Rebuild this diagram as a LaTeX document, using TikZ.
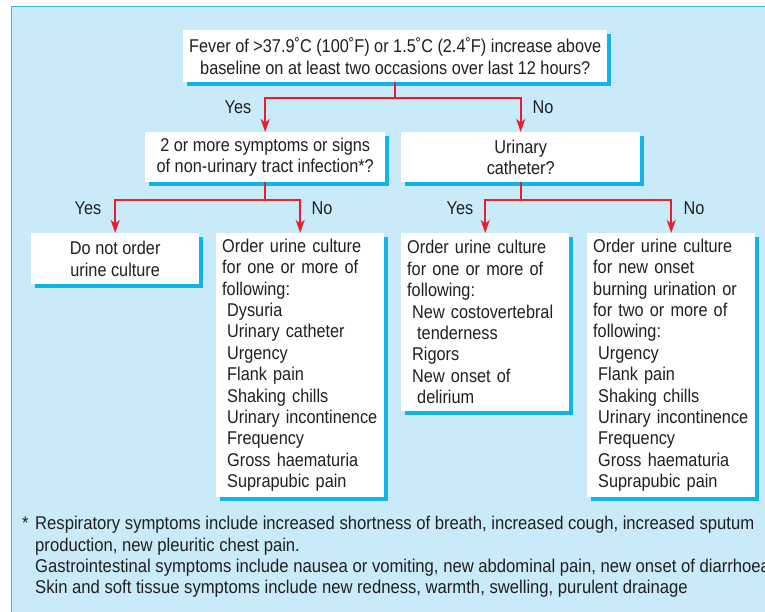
\documentclass[tikz,border=0pt]{standalone}
\usepackage{fontspec}
\setmainfont{Liberation Sans}[FakeStretch=0.88]
\newfontfamily\notefont{Liberation Sans}[FakeStretch=0.9]
\usetikzlibrary{arrows.meta, shadows}

\definecolor{panelblue}{HTML}{C8EAF9}
\definecolor{panelline}{HTML}{3CB6E6}
\definecolor{shadowblue}{HTML}{10B4EA}
\definecolor{flowred}{HTML}{E62129}
\definecolor{inkgray}{HTML}{231F20}

\newcommand{\listind}{\hspace*{5pt}}
\newcommand{\listindd}{\hspace*{10pt}}

\begin{document}
\begin{tikzpicture}[x=1pt,y=-1pt,
  every node/.style={font=\fontsize{18.5}{21.4}\selectfont, text=inkgray},
  qbox/.style={fill=white, inner xsep=6pt, inner ysep=0pt,
    drop shadow={shadow xshift=3.5pt, shadow yshift=-3.5pt, fill=shadowblue, opacity=1}},
  listbox/.style={qbox, text width=156pt, align=left, anchor=north west},
  flow/.style={draw=flowred, line width=1.8pt, -{Stealth[length=13pt,width=9pt,inset=3.5pt]}}]
\useasboundingbox (0,0) rectangle (765,612);
\clip (0,0) rectangle (765,612);
\draw[panelline, fill=panelblue, line width=1pt] (11,7) rectangle (800,650); %background panel

% questions
\node[qbox, anchor=north west, minimum width=420pt, minimum height=52pt, align=center] (fever) at (183,30)
  {Fever of >37.9˚C (100˚F) or 1.5˚C (2.4˚F) increase above\\baseline on at least two occasions over last 12 hours?};
\node[qbox, anchor=north west, minimum width=240pt, minimum height=50pt, align=center] (symp) at (145,132)
  {2 or more symptoms or signs\\of non-urinary tract infection*?};
\node[qbox, anchor=north west, minimum width=239pt, minimum height=50pt, align=center] (cath) at (401,132)
  {Urinary\\catheter?};

% outcomes
\node[qbox, anchor=north west, minimum width=168pt, minimum height=51pt, align=center] (noord) at (31,233)
  {Do not order\\urine culture};
\node[listbox, minimum height=264pt] (ordB) at (216,233)
  {Order urine culture\\for one or more of\\following:\\\listind Dysuria\\\listind Urinary catheter\\\listind Urgency\\\listind Flank pain\\
   \listind Shaking chills\\\listind \mbox{Urinary incontinence}\\\listind Frequency\\\listind Gross haematuria\\\listind Suprapubic pain};
\node[listbox, minimum height=178pt] (ordC) at (401,233)
  {Order urine culture\\for one or more of\\following:\\\listind \mbox{New costovertebral}\\\listindd tenderness\\\listind Rigors\\
   \listind New onset of\\\listindd delirium};
\node[listbox, minimum height=264pt] (ordD) at (587,233)
  {Order urine culture\\for new onset\\\mbox{burning urination or}\\for two or more of\\following:\\\listind Urgency\\\listind Flank pain\\
   \listind Shaking chills\\\listind \mbox{Urinary incontinence}\\\listind Frequency\\\listind Gross haematuria\\\listind Suprapubic pain};

% connectors
\draw[flow] (fever.south) -- ++(0,16) -| (symp.north);
\draw[flow] (fever.south) -- ++(0,16) -| (cath.north);
\draw[flow] (symp.south) -- ++(0,18) -| (noord.north);
\draw[flow] (symp.south) -- ++(0,18) -| (ordB.north);
\draw[flow] (cath.south) -- ++(0,18) -| (ordC.north);
\draw[flow] (cath.south) -- ++(0,18) -| (ordD.north);

\node[anchor=base] (yesA) at (238,114) {Yes};
\node[anchor=base] (noA)  at (543,114) {No};
\node[anchor=base] (yesB) at (88,215)  {Yes};
\node[anchor=base] (noB)  at (322,215) {No};
\node[anchor=base] (yesC) at (460,215) {Yes};
\node[anchor=base] (noC)  at (694,215) {No};

% footnote
\node[anchor=north west, inner sep=0pt, align=left, font=\notefont\fontsize{18.5}{21.4}\selectfont] (fnote) at (22,516)
  {\makebox[13pt][l]{*}Respiratory symptoms include increased shortness of breath, increased cough, increased sputum\\
   \hspace*{13pt}production, new pleuritic chest pain.\\
   \hspace*{13pt}Gastrointestinal symptoms include nausea or vomiting, new abdominal pain, new onset of diarrhoea\\
   \hspace*{13pt}Skin and soft tissue symptoms include new redness, warmth, swelling, purulent drainage};
\end{tikzpicture}
\end{document}
